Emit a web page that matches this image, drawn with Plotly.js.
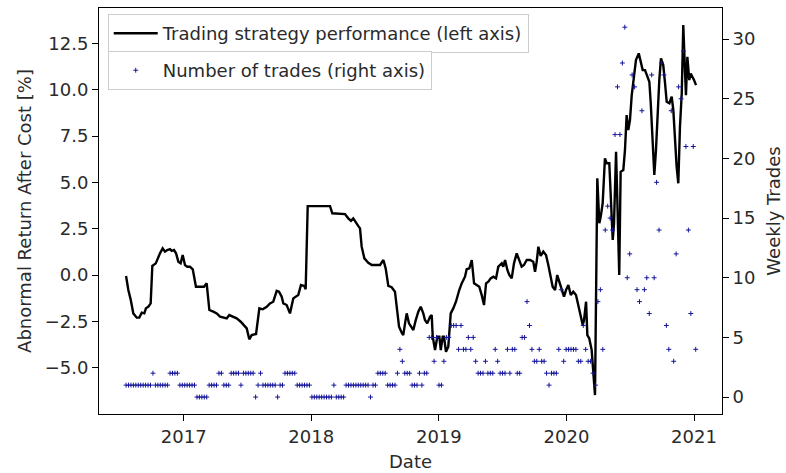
<!DOCTYPE html>
<html>
<head>
<meta charset="utf-8">
<script src="https://cdn.plot.ly/plotly-3.0.1.min.js"></script>
<style>html,body{margin:0;padding:0;background:#fff;}#chart{width:786px;height:473px;}</style>
</head>
<body>
<div id="chart"></div>
<script>
// Strategy performance (left axis): decimal-year dates and abnormal return after cost [%]
const perfYear = [
2016.548,2016.566,2016.585,2016.605,2016.632,2016.652,2016.671,2016.691,2016.704,2016.723,2016.741,2016.754,2016.781,2016.801,2016.814,2016.835,2016.853,2016.871,2016.893,2016.906,2016.924,2016.940,2016.958,2016.976,2016.992,2017.010,2017.028,2017.049,2017.071,2017.096,2017.122,2017.159,2017.180,2017.201,2017.232,2017.259,2017.285,2017.310,2017.337,2017.357,2017.384,2017.415,2017.447,2017.467,2017.494,2017.514,2017.533,2017.567,2017.593,2017.619,2017.651,2017.676,
2017.702,2017.729,2017.747,2017.768,2017.781,2017.807,2017.833,2017.859,2017.878,2017.898,2017.919,2017.945,2017.956,2017.972,2018.003,2018.147,2018.165,2018.264,2018.290,2018.311,2018.329,2018.348,2018.369,2018.382,2018.395,2018.416,2018.447,2018.474,2018.500,2018.539,2018.565,2018.583,2018.604,2018.630,2018.656,2018.677,2018.688,2018.709,2018.721,2018.735,2018.748,2018.766,2018.787,2018.800,2018.819,2018.839,2018.858,2018.878,2018.891,
2018.909,2018.931,2018.944,2018.952,2018.970,2018.988,2019.004,2019.015,2019.030,2019.040,2019.056,2019.074,2019.093,2019.113,2019.134,2019.160,2019.179,2019.205,2019.218,2019.239,2019.258,2019.276,2019.297,2019.317,2019.336,2019.354,2019.370,2019.388,2019.406,2019.427,2019.448,2019.466,2019.479,2019.493,2019.505,2019.519,2019.537,2019.552,2019.571,2019.589,2019.610,2019.631,2019.649,2019.667,2019.689,2019.715,2019.740,2019.754,2019.767,2019.780,2019.798,2019.819,2019.840,2019.858,2019.871,2019.892,2019.911,2019.928,2019.944,
2019.963,2019.981,2019.997,2020.015,2020.034,2020.054,2020.075,2020.093,2020.112,2020.128,2020.138,2020.154,2020.164,2020.179,2020.198,2020.211,2020.224,
2020.242,2020.258,2020.269,2020.284,2020.302,2020.316,2020.336,2020.347,2020.363,2020.373,2020.389,2020.399,2020.407,2020.414,2020.425,2020.446,2020.459,2020.472,2020.485,2020.498,2020.512,2020.524,2020.545,2020.567,2020.582,2020.598,2020.616,2020.634,2020.650,2020.661,2020.676,2020.689,2020.702,2020.712,2020.728,2020.741,2020.759,2020.773,2020.786,2020.807,2020.825,2020.838,2020.851,2020.864,2020.877,2020.890,2020.904,2020.916,2020.929,2020.937,2020.948,2020.963,2020.974,2020.990,2021.000,2021.016
];
const perfValue = [
-0.05,-0.81,-1.35,-2.07,-2.30,-2.30,-2.03,-2.07,-1.80,-1.71,-1.53,0.49,0.63,0.99,1.17,1.44,1.26,1.35,1.40,1.30,1.35,1.17,0.72,0.63,1.08,0.54,0.45,0.45,0.31,-0.63,-0.63,-0.63,-0.45,-1.89,-1.98,-2.07,-2.25,-2.28,-2.34,-2.16,-2.25,-2.34,-2.52,-2.70,-2.88,-3.47,-3.24,-3.18,-1.80,-1.85,-1.71,-1.53,
-1.44,-0.85,-0.90,-1.17,-1.53,-1.62,-2.07,-1.26,-1.17,-1.08,-0.54,-0.59,-0.77,3.72,3.72,3.72,3.33,3.29,3.06,2.93,3.06,2.82,2.64,2.52,1.53,0.90,0.66,0.54,0.54,0.54,0.81,0.36,-0.59,-0.66,-0.90,-2.07,-2.79,-3.11,-3.24,-2.61,-2.07,-2.61,-2.88,-2.97,-2.43,-1.98,-1.71,-2.07,-2.43,
-2.61,-2.25,-2.16,-3.33,-4.05,-3.33,-3.33,-4.05,-3.33,-3.33,-4.14,-3.87,-2.07,-1.80,-1.44,-0.81,-0.45,-0.09,0.31,0.36,0.81,-0.45,-0.54,-0.63,-1.08,-1.62,-0.45,-0.36,-0.18,-0.09,-0.18,0.45,0.54,0.63,0.45,0.81,0.27,0.00,-0.18,0.63,1.17,0.81,0.45,0.54,0.81,0.81,0.72,0.18,0.72,1.53,1.03,1.26,1.08,0.54,0.09,-0.63,-0.81,0.00,-0.36,
-0.72,-1.17,-0.81,-0.54,-1.08,-0.90,-1.08,-1.62,-2.16,-2.70,-2.43,-1.44,-3.24,-3.42,-4.05,-5.13,-6.48,
5.22,2.79,3.15,3.87,6.30,6.03,6.03,4.59,1.89,2.79,6.65,4.05,1.35,0.00,5.57,5.67,6.75,8.63,7.83,8.36,9.71,10.52,11.60,11.96,11.51,11.06,11.06,10.70,10.43,9.27,7.46,5.40,6.75,8.54,10.52,11.69,11.33,10.35,9.35,9.27,9.62,8.90,7.11,5.84,4.95,8.00,9.81,13.49,11.06,9.71,11.78,10.52,10.88,10.70,10.52,10.25
];

// Number of trades per week (right axis), one value per week from the first week
const tradeFirstWeek = 2016.548;   // decimal year of first weekly observation
const weekInYears = 7 / 365.25;
const weeklyTrades = [
1,1,1,1,1,1,1,1,1,1,1,2,1,1,1,1,1,1,2,2,2,2,1,1,1,1,1,1,1,0,0,0,0,0,1,1,1,1,2,2,
1,1,1,2,2,2,2,1,2,2,2,2,2,0,1,2,1,1,1,1,1,1,0,1,1,2,2,2,2,2,1,1,1,1,1,1,0,0,0,0,
0,0,0,0,0,1,0,0,0,0,1,1,1,1,1,1,1,1,1,1,0,1,1,2,2,2,2,1,1,1,1,2,4,3,2,2,2,1,1,1,
2,1,2,2,5,5,3,5,1,1,3,5,5,6,6,6,4,6,4,4,5,4,5,3,2,2,2,3,2,2,2,4,3,2,2,2,4,2,4,4,
2,2,5,5,8,6,4,3,3,4,3,3,2,1,2,2,2,
4,9,3,4,4,4,4,4,3,3,6,4,3,3,2,1,8,9,4,14,16,15,14,22,26,22,28,31,10,12,
27,26,9,8,24,9,10,7,27,10,18,14,28,27,6,4,24,3,12,26,25,29,21,14,7,21,4
];
const tradeYear = weeklyTrades.map((_, i) => tradeFirstWeek + i * weekInYears);

// Axis ticks
const xTickVals = [2017, 2018, 2019, 2020, 2021];
const xTickText = ['2017', '2018', '2019', '2020', '2021'];
const yTickVals = [-5, -2.5, 0, 2.5, 5, 7.5, 10, 12.5];
const yTickText = ['\u22125.0', '\u22122.5', '0.0', '2.5', '5.0', '7.5', '10.0', '12.5'];
const y2TickVals = [0, 5, 10, 15, 20, 25, 30];
const y2TickText = ['0', '5', '10', '15', '20', '25', '30'];

const textColor = '#2a2a2a';
const FONT = 'DejaVu Sans, sans-serif';
const FS = 18;

const traces = [
  {
    x: perfYear, y: perfValue, type: 'scatter', mode: 'lines',
    name: 'Trading strategy performance (left axis)',
    line: {color: '#000000', width: 2.4},
    yaxis: 'y', legend: 'legend'
  },
  {
    x: tradeYear, y: weeklyTrades, type: 'scatter', mode: 'markers',
    name: 'Number of trades (right axis)',
    marker: {symbol: 'cross-thin', size: 3.5, color: '#14149a', line: {color: '#14149a', width: 1}},
    yaxis: 'y2', legend: 'legend2'
  }
];

const axisCommon = {
  showline: true, linecolor: '#000000', linewidth: 1,
  ticks: 'outside', ticklen: 6, tickwidth: 1, tickcolor: '#000000',
  showgrid: false, zeroline: false,
  tickfont: {family: FONT, size: FS, color: textColor}
};

const legendCommon = {
  xanchor: 'left', yanchor: 'top', x: 0.014,
  bgcolor: '#ffffff', bordercolor: '#cccccc', borderwidth: 1,
  font: {family: FONT, size: FS, color: textColor},
  itemwidth: 44
};

const layout = {
  width: 786, height: 473,
  margin: {l: 99, r: 64, t: 8, b: 59, pad: 0},
  paper_bgcolor: '#ffffff', plot_bgcolor: '#ffffff',
  font: {family: FONT, size: FS, color: textColor},
  showlegend: true,
  xaxis: Object.assign({}, axisCommon, {
    range: [2016.336, 2021.2195], tickmode: 'array', tickvals: xTickVals, ticktext: xTickText,
    mirror: true,
    title: {text: 'Date', font: {family: FONT, size: FS, color: textColor}, standoff: 9}
  }),
  yaxis: Object.assign({}, axisCommon, {
    range: [-7.50, 14.41], tickmode: 'array', tickvals: yTickVals, ticktext: yTickText,
    title: {text: 'Abnormal Return After Cost [%]', font: {family: FONT, size: FS, color: textColor}, standoff: 8}
  }),
  yaxis2: Object.assign({}, axisCommon, {
    range: [-1.42, 32.61], tickmode: 'array', tickvals: y2TickVals, ticktext: y2TickText,
    overlaying: 'y', side: 'right',
    title: {text: 'Weekly Trades', font: {family: FONT, size: FS, color: textColor}, standoff: 12}
  }),
  legend: Object.assign({}, legendCommon, {y: 0.985}),
  legend2: Object.assign({}, legendCommon, {y: 0.894})
};

Plotly.newPlot('chart', traces, layout, {staticPlot: true, displayModeBar: false});
</script>
</body>
</html>
